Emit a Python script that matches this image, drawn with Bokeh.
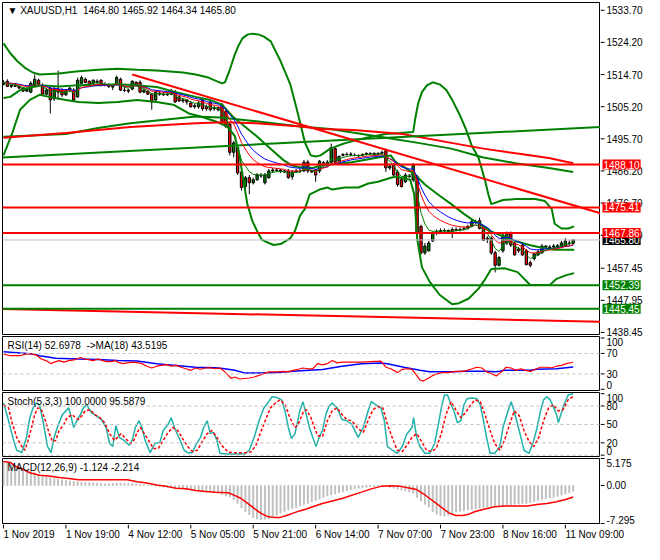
from bokeh.plotting import figure
from bokeh.layouts import column, row
from bokeh.models import Range1d, Span, Label, ColumnDataSource
from bokeh.core.properties import value
from bokeh.embed import file_html
from bokeh.resources import INLINE

FONT = "Liberation Sans"
FS = "10px"
GREEN = "#008000"
RED = "#ff0000"
BLUE = "#0000ff"
SILVER = "#c0c0c0"
TEAL = "#20b2aa"

# ---------------- data (XAUUSD H1) ----------------
time_ticks = [0, 16, 32, 48, 64, 80, 96, 112, 128, 144]
time_labels = ["1 Nov 2019", "1 Nov 19:00", "4 Nov 12:00", "5 Nov 05:00", "5 Nov 21:00",
               "6 Nov 14:00", "7 Nov 07:00", "7 Nov 23:00", "8 Nov 16:00", "11 Nov 09:00"]

price_ticks = [1533.70, 1524.20, 1514.70, 1505.20, 1495.70, 1486.20, 1476.70, 1467.20,
               1457.45, 1447.95, 1438.45]
rsi_ticks = [100, 70, 30, 0]
sto_ticks = [100, 80, 50, 20, 0]
macd_ticks = [5.175, 0.0, -7.295]
macd_tick_labels = ["5.175", "0.00", "-7.295"]

opens = [1511.8, 1512.7, 1511.2, 1511.5, 1511.2, 1510.7, 1509.8, 1509.5, 1511.5, 1513.0,
         1511.5, 1508.9, 1510.7, 1507.5, 1510.4, 1510.1, 1508.7, 1510.1, 1510.1, 1508.1,
         1512.1, 1513.3, 1512.7, 1512.1, 1512.7, 1513.0, 1511.5, 1511.8, 1511.2, 1511.8,
         1513.3, 1510.1, 1510.1, 1510.4, 1512.4, 1512.4, 1509.5, 1509.8, 1508.9, 1507.2,
         1509.2, 1508.9, 1508.7, 1508.9, 1509.5, 1508.1, 1506.9, 1507.2, 1506.3, 1505.2,
         1505.2, 1507.2, 1505.2, 1506.6, 1504.6, 1504.9, 1505.8, 1503.8, 1500.0, 1491.7,
         1493.1, 1485.9, 1481.6, 1484.2, 1482.7, 1483.6, 1484.7, 1482.7, 1484.2, 1486.2,
         1486.5, 1486.5, 1486.2, 1486.2, 1484.5, 1485.9, 1486.2, 1486.2, 1488.8, 1486.2,
         1486.5, 1486.2, 1488.5, 1487.9, 1488.8, 1492.8, 1489.1, 1490.8, 1491.1, 1491.1,
         1490.8, 1490.8, 1490.8, 1491.1, 1491.4, 1491.4, 1491.1, 1491.4, 1492.2, 1487.1,
         1487.9, 1485.9, 1483.6, 1483.0, 1484.5, 1483.6, 1484.5, 1469.8, 1462.0, 1462.6,
         1465.5, 1467.8, 1468.3, 1468.6, 1468.6, 1468.9, 1468.6, 1468.9, 1468.9, 1469.2,
         1469.8, 1470.9, 1471.5, 1469.8, 1466.3, 1466.3, 1462.0, 1458.3, 1462.6, 1464.9,
         1467.8, 1464.9, 1463.1, 1464.3, 1462.6, 1459.1, 1460.3, 1461.4, 1462.0, 1463.7,
         1463.4, 1463.7, 1463.8, 1463.7, 1464.0, 1464.9, 1464.80]
closes = [1512.4, 1511.2, 1511.5, 1511.2, 1510.7, 1509.8, 1510.4, 1512.1, 1513.3, 1511.8,
          1508.9, 1510.1, 1507.2, 1510.4, 1509.5, 1508.7, 1510.1, 1510.7, 1507.2, 1513.0,
          1513.8, 1512.4, 1511.8, 1513.0, 1512.4, 1511.5, 1511.8, 1511.2, 1511.0, 1513.8,
          1510.1, 1510.0, 1509.8, 1512.7, 1511.8, 1509.5, 1510.1, 1508.9, 1506.6, 1509.5,
          1508.9, 1508.7, 1508.9, 1509.5, 1506.6, 1506.9, 1507.2, 1506.6, 1505.2, 1505.5,
          1506.3, 1504.6, 1504.6, 1504.3, 1504.9, 1504.3, 1500.3, 1499.4, 1491.7, 1494.5,
          1485.6, 1481.3, 1484.2, 1482.7, 1483.6, 1485.0, 1484.8, 1485.0, 1486.2, 1486.5,
          1486.4, 1486.2, 1485.9, 1484.2, 1485.9, 1486.2, 1486.1, 1488.8, 1486.2, 1485.9,
          1485.0, 1489.1, 1488.6, 1488.8, 1493.1, 1488.8, 1490.5, 1491.1, 1491.0, 1491.2,
          1490.9, 1490.7, 1491.1, 1491.4, 1491.3, 1491.1, 1491.4, 1491.7, 1487.1, 1487.6,
          1485.0, 1482.2, 1481.6, 1485.0, 1484.7, 1487.9, 1467.8, 1462.0, 1464.0, 1464.9,
          1467.8, 1468.3, 1468.6, 1468.5, 1468.3, 1468.3, 1468.9, 1468.8, 1469.2, 1469.8,
          1471.2, 1471.2, 1469.2, 1465.7, 1466.0, 1462.0, 1458.3, 1460.6, 1467.2, 1467.8,
          1464.3, 1461.4, 1462.6, 1461.4, 1458.5, 1458.3, 1461.7, 1462.3, 1464.0, 1464.0,
          1463.7, 1464.0, 1464.1, 1464.9, 1465.5, 1464.8, 1465.80]
highs = [1513.0, 1513.3, 1511.8, 1512.1, 1511.5, 1511.0, 1510.7, 1512.7, 1514.7, 1513.5,
         1512.1, 1510.7, 1511.2, 1511.0, 1515.9, 1510.7, 1510.4, 1511.2, 1510.7, 1513.8,
         1514.4, 1513.8, 1513.0, 1513.3, 1513.3, 1513.3, 1512.4, 1512.1, 1511.5, 1514.4,
         1513.8, 1511.0, 1510.4, 1513.0, 1512.7, 1513.0, 1510.4, 1510.1, 1509.2, 1510.1,
         1509.8, 1509.5, 1509.5, 1510.4, 1510.1, 1508.4, 1507.8, 1507.5, 1506.9, 1506.1,
         1506.9, 1507.8, 1505.8, 1506.9, 1505.5, 1505.2, 1506.3, 1504.3, 1500.6, 1495.1,
         1493.7, 1486.5, 1484.7, 1485.0, 1484.2, 1485.6, 1485.6, 1485.6, 1486.8, 1487.1,
         1487.1, 1486.8, 1486.5, 1486.8, 1486.5, 1486.8, 1486.8, 1489.4, 1489.4, 1486.5,
         1486.8, 1489.4, 1489.1, 1489.4, 1494.3, 1493.1, 1490.8, 1491.4, 1491.7, 1491.7,
         1491.4, 1491.1, 1491.4, 1491.7, 1491.7, 1491.7, 1491.7, 1492.2, 1492.8, 1488.2,
         1488.5, 1486.5, 1484.2, 1485.6, 1485.3, 1488.5, 1485.0, 1470.3, 1464.9, 1465.5,
         1468.3, 1468.9, 1469.2, 1469.2, 1468.9, 1469.5, 1469.5, 1469.5, 1469.8, 1470.3,
         1471.8, 1471.8, 1472.4, 1470.1, 1466.9, 1466.9, 1462.6, 1461.1, 1467.8, 1468.3,
         1468.3, 1465.2, 1463.7, 1464.9, 1463.1, 1459.7, 1462.0, 1462.9, 1464.6, 1464.3,
         1464.3, 1464.6, 1464.6, 1465.5, 1466.3, 1465.7, 1465.92]
lows = [1511.5, 1511.0, 1510.7, 1511.0, 1510.4, 1509.5, 1509.5, 1509.2, 1511.2, 1511.5,
        1508.7, 1508.7, 1503.2, 1506.9, 1507.2, 1508.1, 1508.4, 1509.5, 1506.6, 1507.8,
        1511.8, 1512.1, 1511.2, 1511.8, 1511.8, 1511.2, 1511.2, 1510.7, 1510.1, 1511.5,
        1509.8, 1509.5, 1509.2, 1510.1, 1511.2, 1509.2, 1509.2, 1508.7, 1504.3, 1506.9,
        1508.4, 1508.4, 1508.4, 1508.7, 1506.3, 1506.6, 1506.3, 1505.8, 1504.9, 1504.6,
        1504.6, 1504.0, 1504.0, 1503.8, 1504.0, 1503.8, 1500.0, 1498.9, 1490.8, 1490.2,
        1485.0, 1480.4, 1480.7, 1479.3, 1482.2, 1483.3, 1484.2, 1482.2, 1483.9, 1485.6,
        1485.9, 1485.6, 1485.6, 1483.9, 1483.6, 1485.6, 1485.6, 1485.9, 1485.6, 1485.6,
        1483.0, 1485.6, 1487.9, 1487.6, 1488.5, 1488.5, 1488.8, 1490.5, 1490.8, 1490.5,
        1490.5, 1490.2, 1490.5, 1490.8, 1491.1, 1490.8, 1490.8, 1491.1, 1485.9, 1486.5,
        1484.7, 1481.6, 1481.3, 1482.7, 1484.2, 1483.0, 1467.2, 1461.4, 1461.4, 1462.3,
        1465.2, 1467.2, 1467.8, 1468.0, 1467.8, 1466.3, 1468.3, 1468.3, 1468.6, 1468.9,
        1469.5, 1470.6, 1468.9, 1465.5, 1464.9, 1461.4, 1456.2, 1458.0, 1462.0, 1464.3,
        1463.7, 1461.1, 1462.0, 1461.1, 1458.3, 1457.7, 1459.7, 1461.1, 1461.7, 1463.1,
        1463.1, 1463.4, 1463.4, 1463.4, 1463.7, 1464.3, 1464.34]

# Bollinger bands (bar index / price)
bb_up_bar = [0, 1.75, 3.5, 5.5, 7.5, 9.25, 14.25, 18.5, 24.25, 29.25, 34.25, 39.25, 46, 49.25, 52.5,
             54.75, 56, 56.75, 58, 59.25, 60.25, 61.25, 62.5, 63.75, 65.5, 66.75, 68.5, 70, 71,
             72.25, 73.5, 75, 76.25, 77.25, 78.75, 80, 81.25, 83.75, 87.25, 89.75, 93, 98, 101.75,
             105, 105.5, 106.25, 107.25, 108.5, 110, 111.75, 113.5, 115, 116.75, 118.5, 120,
             121.75, 122.5, 123.5, 124.25, 125, 128, 131.25, 136.25, 138.75, 140.5, 141.25, 143,
             144.75, 146.25]
bb_up_val = [1523.9, 1521.0, 1518.7, 1516.7, 1515.3, 1514.7, 1515.0, 1515.6, 1516.1, 1516.4, 1516.1,
             1515.9, 1515.3, 1514.7, 1513.8, 1512.7, 1512.1, 1512.4, 1516.1, 1520.5, 1523.3, 1525.4,
             1526.5, 1526.8, 1526.5, 1525.9, 1524.5, 1521.0, 1518.7, 1515.3, 1511.8, 1505.2, 1499.4,
             1494.6, 1490.8, 1490.5, 1490.8, 1492.8, 1494.3, 1495.1, 1496.0, 1497.1, 1497.4, 1497.7,
             1501.5, 1506.1, 1509.5, 1511.5, 1512.4, 1511.8, 1510.1, 1507.2, 1503.2, 1498.6, 1493.7,
             1490.0, 1487.1, 1483.0, 1479.3, 1476.4, 1477.6, 1477.9, 1477.9, 1477.3, 1475.0, 1470.6,
             1469.2, 1469.2, 1469.8]
bb_mid_bar = [0, 1.75, 4.25, 7.5, 10, 14.25, 18.5, 24.25, 29.25, 34.25, 39.25, 44.25, 49.25, 53, 56,
              58.75, 61.75, 64.75, 67.5, 69.75, 71.75, 73.75, 75.5, 79.25, 81.75, 89.25, 96, 99.25,
              100.5, 103, 105.5, 108, 111.25, 114.75, 118, 120.5, 122.25, 124.75, 128, 131.25,
              134.75, 138, 141.25, 146.25]
bb_mid_val = [1507.8, 1508.1, 1510.1, 1511.0, 1511.5, 1511.2, 1511.5, 1511.5, 1511.8, 1511.5, 1511.0,
              1509.5, 1508.1, 1507.2, 1505.8, 1502.3, 1499.4, 1496.6, 1493.7, 1491.4, 1489.4, 1487.9,
              1487.4, 1487.1, 1487.9, 1488.8, 1490.2, 1490.8, 1488.8, 1487.1, 1485.1, 1482.2, 1479.3,
              1476.4, 1473.5, 1471.5, 1470.6, 1468.4, 1466.9, 1465.5, 1464.3, 1463.5, 1462.9, 1462.9]
bb_lo_bar = [0, 2.25, 4.25, 6.75, 9.25, 11.75, 16, 19.25, 24.25, 29.25, 34.25, 39.25, 43.5, 47.5,
             50.5, 54.25, 57.25, 59.25, 60.5, 61.25, 62.5, 63.75, 65, 66.25, 68, 69.25, 71, 73.5,
             74.75, 76, 77.25, 78.5, 81, 83, 84.25, 87.5, 91, 93.5, 96, 99.25, 100.5, 104.25,
             105.25, 106, 107.25, 109.25, 111.75, 115, 116.75, 119.25, 121.75, 123.5, 125, 128.5,
             131.75, 135, 140, 141.75, 144.25, 146.25]
bb_lo_val = [1490.8, 1497.4, 1504.3, 1507.2, 1508.7, 1508.1, 1507.2, 1506.6, 1506.3, 1506.6, 1507.2,
             1506.6, 1505.8, 1503.2, 1502.3, 1500.9, 1499.4, 1496.6, 1490.8, 1485.0, 1476.4, 1471.5,
             1468.4, 1465.8, 1464.9, 1464.3, 1464.6, 1466.3, 1468.6, 1473.0, 1475.0, 1479.3, 1480.7,
             1481.3, 1480.7, 1481.3, 1481.3, 1482.5, 1483.0, 1484.2, 1484.5, 1483.6, 1479.3, 1466.3,
             1457.7, 1453.4, 1449.6, 1446.8, 1447.1, 1448.5, 1451.4, 1454.3, 1457.2, 1457.4, 1456.3,
             1452.5, 1452.5, 1454.3, 1455.4, 1456.0]

# slow moving averages (thick red / thick green)
ma_r_bar = [0, 16, 32.5, 49.25, 56.75, 64.75, 75.5, 81.75, 89.75, 102.25, 114.75, 123, 131.25, 139.75, 146]
ma_r_val = [1496.0, 1497.4, 1499.2, 1500.3, 1500.6, 1500.3, 1499.4, 1498.6, 1498.3, 1497.1, 1494.5,
            1492.8, 1491.4, 1490.0, 1488.5]
ma_g_bar = [0, 16, 24.25, 32.5, 49.25, 55.5, 64.75, 75.5, 83.75, 98, 106.25, 114.75, 123, 131.25, 139.75, 146]
ma_g_val = [1496.3, 1497.1, 1498.9, 1500.3, 1502.3, 1502.0, 1500.9, 1499.4, 1498.6, 1496.0, 1494.5,
            1492.8, 1490.2, 1488.5, 1487.1, 1485.9]

# trend lines (bar, price)
trend_red_bar = [33, 153]
trend_red_val = [1514.7, 1473.7]
trend_green_bar = [-0.25, 153]
trend_green_val = [1490.2, 1499.2]
trend_low_bar = [-0.25, 153]
trend_low_val = [1445.4, 1441.6]

red_levels = [1488.10, 1475.41, 1467.86]
green_levels = [1452.39, 1445.45]
bid = 1465.80

# RSI(14) and its MA(18)
rsi_bar = [0, 1.75, 4.25, 5.9, 7.2, 8.4, 9.7, 10.9, 12.2, 13, 14.25, 15.5, 16.75, 18.4, 19.7, 20.9,
           21.75, 23, 24.25, 25.5, 26.3, 27.6, 28.8, 29.25, 30.5, 31.75, 33, 34.25, 35.5, 36.75, 38,
           39.25, 40.5, 41.75, 43, 44.25, 45.5, 46.75, 48, 49.25, 50.5, 51.75, 53, 54.25, 55.5,
           56.75, 57.6, 58.4, 59.25, 60.5, 61.75, 63, 64.25, 65.5, 66.75, 68, 69.25, 70.5, 71.75,
           73, 74.25, 75.5, 76.75, 78, 79.25, 80.5, 81.75, 83, 84.25, 85.5, 86.75, 89.25, 91.75,
           94.25, 96.75, 98, 99.25, 101, 102.2, 103.4, 104.7, 105.9, 106.75, 107.6, 108.8, 110,
           111.3, 112.6, 113.8, 115.1, 116.3, 117.6, 118.8, 120.1, 121.3, 122.6, 123.8, 125.1,
           126.3, 127.6, 128.8, 130.1, 131.3, 132.6, 133.8, 135.1, 136.3, 137.6, 139.25, 140.5,
           141.75, 143, 144.25, 146]
rsi_val = [69, 65.5, 65.5, 69, 69, 67, 59, 56, 50, 53, 56, 53, 56, 58, 62, 59,
           58, 56, 59, 56, 54, 54, 56, 53, 50, 51.5, 53, 52, 50, 45, 41.5,
           45, 46.6, 48, 45, 46.6, 43, 40, 37, 41.5, 39, 41.5, 42, 40, 41.5,
           34, 27, 21, 24, 20, 21, 22, 24, 27, 30.6, 34, 34, 34, 35,
           34, 37, 39, 41.5, 40, 40, 50, 47.5, 50, 56, 51.5, 53, 53, 53,
           54, 55, 43, 40, 32.5, 39, 40, 39, 27, 18, 16, 21, 27,
           30.6, 32.5, 32.5, 34, 35, 35, 37, 40, 43, 41.5, 34, 30.6,
           26, 34, 43, 41.5, 37, 40, 37, 35, 39, 43, 43, 42,
           45, 46.6, 50, 52.6978]
rsi_ma_bar = [0, 4.25, 7.6, 9.25, 13.4, 19.25, 24.25, 29.25, 34.25, 39.25, 44.25, 49.25, 54.25, 56.75,
              59.25, 61.75, 65.9, 70, 74.25, 78.4, 81.75, 86.75, 91.75, 96.75, 98.4, 102.6, 106.75,
              109.25, 115, 118.4, 123.4, 126, 127.2, 128.4, 135, 136.75, 141.75, 146]
rsi_ma_val = [73, 70.6, 69, 65.5, 60.5, 59, 58, 56, 55, 50, 46.6, 43, 42, 40,
              37, 32, 32, 32.5, 35, 37, 38.5, 45, 50, 51.5, 50, 43, 37,
              34, 34, 35, 35, 34, 35, 37, 37, 39, 40, 43.5195]

# Stochastic(5,3,3)
st_main_bar = [0, 0.9, 1.75, 2.6, 3.4, 4.7, 5.9, 6.75, 7.6, 8.4, 9.25, 10.1, 11.3, 12.2, 13, 13.8,
               15.1, 16.75, 18, 18.8, 19.7, 20.5, 21.3, 22.6, 23.8, 25.1, 26.3, 27.2, 28, 28.8,
               29.7, 30.9, 32.2, 33, 33.8, 34.7, 35.5, 36.3, 37.6, 38.8, 40.1, 40.9, 42.2, 43,
               43.8, 44.7, 45.5, 46.3, 47.2, 48.4, 49.25, 50.5, 51.3, 52.2, 53, 53.8, 54.7, 55.5,
               56.75, 58, 59.25, 60.5, 61.75, 63, 64.25, 65.5, 66.75, 68, 68.8, 70, 71.3, 72.2, 73,
               73.8, 74.7, 75.9, 76.75, 77.6, 78.4, 79.25, 80.1, 80.9, 81.75, 82.6, 83.4, 84.25,
               85.5, 86.75, 88, 89.25, 90.9, 92.2, 93.4, 94.25, 95.5, 96.75, 97.6, 98.4, 99.7,
               100.9, 102.2, 103.4, 104.7, 105.1, 105.9, 106.75, 108, 109.25, 110.5, 111.3, 112.2,
               113, 113.8, 114.7, 115.5, 116.3, 117.2, 118, 118.8, 120.1, 121.3, 122.2, 123, 123.8,
               124.7, 125.9, 127.2, 128, 129.25, 130.1, 130.9, 131.75, 132.6, 133.4, 134.7, 135.9,
               136.75, 137.6, 138.4, 139.25, 140.1, 140.9, 141.75, 142.2, 143, 143.8, 144.7, 146]
st_main_val = [85, 66, 45, 24, 8, 4, 29, 61, 77, 85, 82, 56, 14, 4, 29, 45,
               66, 77, 45, 56, 66, 77, 82, 69, 64, 58, 45, 19, 14, 48,
               29, 24, 16, 24, 45, 56, 45, 24, 4, 19, 21, 40, 50, 61,
               45, 32, 21, 8, 4, 4, 16, 29, 45, 56, 35, 37, 24, 3,
               2, 2, 2, 2, 2, 8, 29, 56, 77, 87, 95, 94, 90, 71, 45,
               27, 35, 71, 87, 66, 45, 29, 14, 29, 40, 66, 79, 85,
               77, 58, 56, 50, 29, 45, 71, 87, 82, 77, 56, 14, 8,
               3, 14, 35, 45, 61, 29, 14, 3, 3, 19, 45, 77,
               98, 98, 82, 71, 53, 56, 82, 92, 93, 92, 82, 56, 29,
               3, 3, 14, 45, 71, 87, 71, 50, 29, 8, 3, 24,
               45, 71, 90, 95, 90, 79, 66, 53, 69, 85, 98, 100]
st_sig_bar = [0, 1.3, 2.2, 3.4, 4.7, 5.5, 6.3, 7.2, 8, 8.8, 9.7, 10.5, 11.75, 12.6, 13.4, 14.25, 15.5,
              16.3, 17.6, 18.4, 19.25, 20.1, 20.9, 22.2, 23.4, 24.7, 25.9, 27.2, 28.4, 29.25, 30.1,
              31.3, 32.6, 33.4, 34.25, 35.1, 35.9, 37.2, 38.4, 39.7, 40.9, 42.2, 43.4, 44.7, 45.9,
              47.2, 48.4, 49.7, 50.9, 52.2, 53.4, 54.7, 55.9, 57.6, 59.25, 61.75, 63.4, 64.7, 65.9,
              67.2, 68.4, 69.7, 70.9, 72.2, 73.4, 74.7, 75.5, 76.75, 77.6, 78.8, 79.7, 80.5, 81.75,
              83, 84.25, 85.5, 86.75, 88, 89.25, 90.9, 92.2, 93.4, 94.7, 95.9, 97.2, 98.4, 99.7,
              100.9, 102.2, 103.4, 104.7, 105.9, 107.2, 108.4, 109.7, 110.9, 112.2, 113.4, 114.7,
              115.9, 117.2, 118.4, 119.7, 120.9, 122.2, 123.4, 124.7, 125.9, 127.2, 128.4, 129.7,
              130.9, 132.2, 133.4, 134.7, 135.9, 137.2, 138.4, 139.7, 140.9, 142.2, 143.4, 144.7, 146]
st_sig_val = [82, 77, 53, 29, 14, 8, 24, 45, 66, 77, 74, 61, 35, 22, 24, 40, 50,
              61, 66, 61, 58, 64, 72, 74, 66, 61, 53, 35, 24, 29, 35,
              27, 19, 24, 37, 45, 37, 24, 11, 11, 24, 37, 45, 40, 27,
              14, 6, 8, 22, 35, 40, 29, 16, 5, 4, 4, 5, 16, 37,
              58, 77, 85, 90, 82, 61, 45, 50, 69, 74, 61, 45, 32, 30,
              56, 72, 77, 66, 58, 56, 43, 37, 56, 74, 79, 77, 50, 27,
              8, 6, 16, 29, 35, 22, 8, 6, 11, 35, 66, 87,
              74, 61, 69, 82, 90, 87, 66, 40, 19, 8, 24, 50,
              72, 64, 40, 22, 14, 29, 56, 77, 82, 72, 74, 90, 95.5879]

# MACD(12,26,9): main (histogram, one per bar) and signal line
macd_main = [4.6, 4.25, 3.95, 3.7, 3.45, 3.2, 2.95, 2.7, 2.45, 2.15,
             1.95, 1.7, 1.5, 1.35, 1.2, 1.1, 0.95, 0.85, 0.75, 0.7,
             0.65, 0.6, 0.55, 0.5, 0.46, 0.4, 0.3, 0.3, 0.38, 0.46,
             0.44, 0.42, 0.38, 0.33, 0.28, 0.2, 0.12, 0.05, -0.05, -0.15,
             -0.22, -0.3, -0.38, -0.45, -0.52, -0.58, -0.62, -0.72, -0.85, -0.95,
             -1.02, -1.08, -1.15, -1.2, -1.27, -1.4, -1.7, -2.0, -2.2, -2.75,
             -3.4, -4.3, -5.0, -5.6, -6.15, -6.45, -6.55, -6.5, -6.36, -6.0,
             -5.7, -5.3, -5.0, -4.7, -4.45, -4.2, -3.95, -3.65, -3.45, -3.15,
             -2.9, -2.6, -2.3, -2.0, -1.8, -1.6, -1.4, -1.2, -1.0, -0.8,
             -0.65, -0.5, -0.42, -0.33, -0.24, -0.18, -0.12, -0.1, -0.2, -0.35,
             -0.5, -0.7, -0.88, -1.05, -1.25, -1.5, -2.3, -3.0, -3.6, -4.1,
             -5.0, -5.5, -5.8, -5.9, -5.7, -5.35, -5.1, -4.95, -4.85, -4.7,
             -4.6, -4.45, -4.35, -4.25, -4.1, -4.0, -3.95, -3.88, -3.82, -3.76,
             -3.7, -3.62, -3.55, -3.5, -3.45, -3.3, -3.1, -2.9, -2.7, -2.5,
             -2.4, -2.25, -2.05, -1.85, -1.6, -1.4, -1.124]
macd_sig_bar = [0, 1.75, 3, 4.25, 6.75, 9.25, 11.75, 14.25, 16.75, 19.25, 24.25, 29.25, 31.75, 34.25,
                36.75, 39.25, 41.75, 44.25, 46.75, 49.25, 51.75, 54.25, 57.6, 59.25, 60.9, 62.6,
                64.25, 65.9, 67.6, 69.25, 70.9, 72.6, 74.25, 75.9, 77.6, 79.25, 81.75, 86.75, 91.75,
                94.25, 96.75, 99.25, 101.75, 104.25, 105.9, 107.6, 109.25, 110.9, 112.6, 114.25,
                115.9, 117.6, 119.25, 120.9, 123.4, 125.9, 128.4, 131.75, 134.25, 136.75, 139.25,
                141.75, 144.25, 146]
macd_sig_val = [4.6, 4.43, 3.7, 3.37, 2.44, 1.95, 1.82, 1.51, 1.32, 1.08, 1.08, 1.08, 1.08, 0.7,
                0.46, 0.09, -0.17, -0.54, -0.65, -0.97, -1.15, -1.28, -1.4, -1.9, -2.5, -3.45,
                -4.4, -5.3, -5.94, -6.12, -6.12, -5.75, -5.3, -4.88, -4.5, -4.07, -3.45, -2.5, -1.28,
                -0.65, -0.17, -0.05, -0.17, -0.54, -0.78, -1.59, -2.5, -3.45, -4.4, -5.3,
                -5.75, -5.75, -5.5, -5.0, -4.5, -4.07, -3.94, -3.94, -3.94, -3.63, -3.45,
                -3.13, -2.63, -2.214]


def ema(values, period):
    a = 2.0 / (period + 1)
    out = [values[0]]
    for v in values[1:]:
        out.append(out[-1] + a * (v - out[-1]))
    return out


# ---------------- layout ----------------
PANEL_W, LEFT, STRIP_W = 600, 2, 44
FRAME_W = PANEL_W - LEFT
X0, X1 = -0.25, 153.0
xr = Range1d(X0, X1)
n = len(closes)
bars = list(range(n))

# name: (height, top border, bottom border, y0, y1)
PANELS = {
    "main": (335, 2, 1, 1437.85, 1536.0),
    "rsi": (56, 1, 1, -2.4, 103.0),
    "sto": (66, 1, 1, -2.2, 102.0),
    "macd": (67, 1, 1, -7.295, 5.175),
}
ORDER = ["main", "rsi", "sto", "macd"]
OFFSET = {}
_acc = 0
for _k in ORDER:
    OFFSET[_k] = _acc
    _acc += PANELS[_k][0]
STACK_H = _acc


def frame_h(name):
    h, t, b, _, _ = PANELS[name]
    return h - t - b


def xpos(px):
    return X0 + px / FRAME_W * (X1 - X0)


def ypos(name, px):
    _, _, _, y0, y1 = PANELS[name]
    return y1 - px / frame_h(name) * (y1 - y0)


def ypx(name, v):
    h, t, b, y0, y1 = PANELS[name]
    return OFFSET[name] + t + (y1 - v) / (y1 - y0) * frame_h(name)


def make(name):
    h, t, b, y0, y1 = PANELS[name]
    p = figure(width=PANEL_W, height=h, x_range=xr, y_range=Range1d(y0, y1),
               output_backend="svg", toolbar_location=None,
               x_axis_location=None, y_axis_location=None,
               min_border_left=LEFT, min_border_right=0,
               min_border_top=t, min_border_bottom=b)
    p.background_fill_color = "white"
    p.border_fill_color = "white"
    p.outline_line_color = "black"
    p.outline_line_width = 1
    p.outline_line_alpha = 1
    p.grid.visible = False
    return p


def header(p, name, text, px_x, px_y):
    p.add_layout(Label(x=xpos(px_x), y=ypos(name, px_y), text=text, text_align="left",
                       text_baseline="middle", text_font=FONT, text_font_size=FS,
                       text_color="black"))


# ---- main price panel ----
main = make("main")
colors = [GREEN if c >= o else RED for o, c in zip(opens, closes)]
src = ColumnDataSource(dict(x=bars, h=highs, l=lows,
                            top=[max(o, c) for o, c in zip(opens, closes)],
                            bottom=[min(o, c) for o, c in zip(opens, closes)],
                            color=colors))
main.segment(x0="x", y0="h", x1="x", y1="l", color="black", line_width=1, source=src)
main.vbar(x="x", width=0.6, top="top", bottom="bottom", fill_color="color",
          line_color="black", line_width=1, source=src)

for lv in red_levels:
    main.add_layout(Span(location=lv, dimension="width", line_color=RED, line_width=2))
for lv in green_levels:
    main.add_layout(Span(location=lv, dimension="width", line_color=GREEN, line_width=2))
main.add_layout(Span(location=bid, dimension="width", line_color=SILVER, line_width=1))

main.line(bb_up_bar, bb_up_val, color=GREEN, line_width=2)
main.line(bb_mid_bar, bb_mid_val, color=GREEN, line_width=2)
main.line(bb_lo_bar, bb_lo_val, color=GREEN, line_width=2)
main.line(ma_g_bar, ma_g_val, color=GREEN, line_width=2)
main.line(ma_r_bar, ma_r_val, color=RED, line_width=2)
main.line(trend_green_bar, trend_green_val, color=GREEN, line_width=2)
main.line(trend_red_bar, trend_red_val, color=RED, line_width=2)
main.line(trend_low_bar, trend_low_val, color=RED, line_width=2)

main.line(bars, ema(closes, 14), color=BLUE, line_width=1)
main.line(bars, ema(closes, 10), color=RED, line_width=1)
main.line(bars, ema(closes, 5), color=GREEN, line_width=1)

header(main, "main", "\u25bc XAUUSD,H1\u00a0 1464.80 1465.92 1464.34 1465.80", 5, 8)

# ---- RSI panel ----
rsi = make("rsi")
for lv in [70, 30]:
    rsi.add_layout(Span(location=lv, dimension="width", line_color=SILVER, line_width=1,
                        line_dash="3 3"))
rsi.line(rsi_ma_bar, rsi_ma_val, color=BLUE, line_width=1.5)
rsi.line(rsi_bar, rsi_val, color=RED, line_width=1.2)
header(rsi, "rsi", "RSI(14) 52.6978\u00a0 ->MA(18) 43.5195", 5, 9)

# ---- Stochastic panel ----
sto = make("sto")
for lv in [80, 50, 20, 0]:
    sto.add_layout(Span(location=lv, dimension="width", line_color=SILVER, line_width=1,
                        line_dash="3 3"))
sto.line(st_main_bar, st_main_val, color=TEAL, line_width=1.5)
sto.line(st_sig_bar, st_sig_val, color=RED, line_width=1.5, line_dash="3 2")
header(sto, "sto", "Stoch(5,3,3) 100.0000 95.5879", 5, 9)

# ---- MACD panel ----
macd = make("macd")
macd.vbar(x=bars, width=0.25, top=macd_main, bottom=0, color=SILVER)
macd.line(macd_sig_bar, macd_sig_val, color=RED, line_width=1.5)
header(macd, "macd", "MACD(12,26,9) -1.124 -2.214", 5, 9)

# ---- right-hand price/value scale strip ----
strip = figure(width=STRIP_W, height=STACK_H, x_range=Range1d(0, STRIP_W),
               y_range=Range1d(STACK_H, 0), output_backend="svg", toolbar_location=None,
               x_axis_location=None, y_axis_location=None,
               min_border_left=0, min_border_right=0, min_border_top=0, min_border_bottom=0)
strip.outline_line_color = None
strip.grid.visible = False
strip.background_fill_color = "white"
strip.border_fill_color = "white"

tick_y, lab_y, lab_t, lab_base = [], [], [], []
for v in price_ticks:
    tick_y.append(ypx("main", v)); lab_y.append(ypx("main", v))
    lab_t.append("%.2f" % v); lab_base.append("middle")
for name, ticks, texts in [("rsi", rsi_ticks, [str(t) for t in rsi_ticks]),
                           ("sto", sto_ticks, [str(t) for t in sto_ticks]),
                           ("macd", macd_ticks, macd_tick_labels)]:
    for i, (v, s) in enumerate(zip(ticks, texts)):
        tick_y.append(ypx(name, v)); lab_y.append(ypx(name, v)); lab_t.append(s)
        lab_base.append("top" if i == 0 else ("bottom" if i == len(ticks) - 1 else "middle"))

strip.segment(x0=[0] * len(tick_y), y0=tick_y, x1=[4] * len(tick_y), y1=tick_y,
              color="black", line_width=1)
for base in ["top", "middle", "bottom"]:
    idx = [i for i, b in enumerate(lab_base) if b == base]
    strip.text(x=[6] * len(idx), y=[lab_y[i] for i in idx], text=[lab_t[i] for i in idx],
               text_align="left", text_baseline=base, text_font=value(FONT),
               text_font_size=value(FS), text_color="black")


def tag(price, bg):
    strip.add_layout(Label(x=2, y=ypx("main", price), text="%.2f" % price, text_align="left",
                           text_baseline="middle", text_font=FONT, text_font_size=FS,
                           text_color="white", background_fill_color=bg, padding=1))


tag(1488.10, RED)
tag(1475.41, RED)
tag(bid, "black")
tag(1467.86, RED)
tag(1452.39, GREEN)
tag(1445.45, GREEN)

# ---- time axis strip ----
TX_W, TX_H = PANEL_W + STRIP_W, 19
tax = figure(width=TX_W, height=TX_H,
             x_range=Range1d(X0, X0 + (TX_W - LEFT) / FRAME_W * (X1 - X0)),
             y_range=Range1d(TX_H, 0), output_backend="svg", toolbar_location=None,
             x_axis_location=None, y_axis_location=None,
             min_border_left=LEFT, min_border_right=0, min_border_top=0, min_border_bottom=0)
tax.outline_line_color = None
tax.grid.visible = False
tax.background_fill_color = "white"
tax.border_fill_color = "white"
tax.segment(x0=time_ticks, y0=[0] * len(time_ticks), x1=time_ticks, y1=[4] * len(time_ticks),
            color="black", line_width=1)
tax.text(x=time_ticks, y=[4] * len(time_ticks), text=time_labels, text_align="left",
         text_baseline="top", text_font=value(FONT), text_font_size=value(FS),
         text_color="black")

layout = column(row(column(main, rsi, sto, macd, spacing=0), strip, spacing=0), tax, spacing=0)
open("out.html", "w").write(file_html(layout, INLINE))
